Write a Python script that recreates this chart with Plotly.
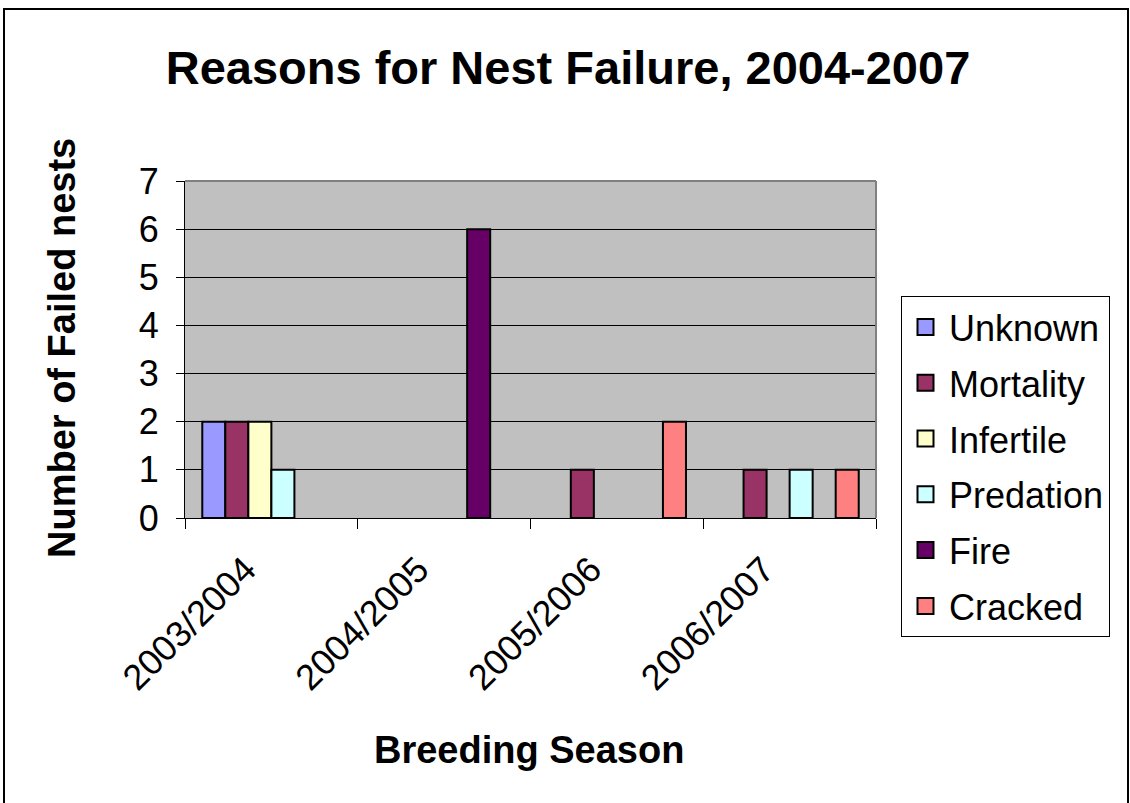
import plotly.graph_objects as go

# Breeding seasons (x categories)
seasons = ["2003/2004", "2004/2005", "2005/2006", "2006/2007"]

# Number of failed nests per reason and season
unknown = [2, 0, 0, 0]
mortality = [2, 0, 1, 1]
infertile = [2, 0, 0, 0]
predation = [1, 0, 0, 1]
fire = [0, 6, 0, 0]
cracked = [0, 0, 2, 1]

reasons = ["Unknown", "Mortality", "Infertile", "Predation", "Fire", "Cracked"]
values = [unknown, mortality, infertile, predation, fire, cracked]
colors = ["#9999FF", "#993366", "#FFFFCC", "#CCFFFF", "#660066", "#FF8080"]

FONT = "Liberation Sans, Arial, sans-serif"

fig = go.Figure()
for i, (name, vals, col) in enumerate(zip(reasons, values, colors)):
    # empty categories get no outline so nothing is drawn along the baseline
    widths = [2 if v else 0 for v in vals]
    fig.add_trace(go.Bar(
        x=seasons, y=vals, name=name,
        marker=dict(color=col, line=dict(color="black", width=widths)),
        showlegend=False,
    ))
    # legend entry with a larger square swatch
    fig.add_trace(go.Scatter(
        x=[None], y=[None], mode="markers", name=name,
        marker=dict(symbol="square", size=16, color=col,
                    line=dict(color="black", width=2)),
        legendgroup=f"g{i}",
    ))

W, H = 1130, 803
L, R, T, B = 185, 254, 181, 285
pw, ph = W - L - R, H - T - B

def px(x):
    return (x - L) / pw

def py(y):
    return (H - B - y) / ph

fig.update_layout(
    width=W, height=H,
    margin=dict(l=L, r=R, t=T, b=B, autoexpand=False),
    paper_bgcolor="white",
    plot_bgcolor="#C0C0C0",
    font=dict(family=FONT, color="black", size=36),
    barmode="group",
    bargap=0.2,
    bargroupgap=0,
    title=dict(
        text="<b>Reasons for Nest Failure, 2004-2007</b>",
        font=dict(size=47, family=FONT, color="black"),
        x=568 / W, xanchor="center",
        y=1 - 68 / H, yanchor="middle",
    ),
    legend=dict(
        x=px(901), xanchor="left",
        y=py(296), yanchor="top",
        bordercolor="black", borderwidth=1,
        bgcolor="white",
        font=dict(size=36, family=FONT, color="black"),
        traceorder="grouped",
        tracegroupgap=6,
        itemsizing="trace",
        itemwidth=37,
        maxheight=500,
    ),
    showlegend=True,
)

fig.update_xaxes(
    type="category",
    showline=True, linecolor="black", linewidth=1,
    ticks="outside", tickson="boundaries", ticklen=10,
    tickcolor="black", tickwidth=1,
    tickangle=-45,
    ticklabelstandoff=15,
    ticklabelshift=-26,
    tickfont=dict(size=36, family=FONT, color="black"),
    showgrid=False,
    automargin=False,
)
fig.update_yaxes(
    range=[0, 7], dtick=1,
    showline=True, linecolor="black", linewidth=1,
    ticks="outside", ticklen=8, tickcolor="black", tickwidth=1,
    ticklabelstandoff=10,
    tickfont=dict(size=36, family=FONT, color="black"),
    showgrid=True, gridcolor="black", gridwidth=1,
    zeroline=False,
    automargin=False,
)

# axis titles
fig.add_annotation(
    text="<b>Breeding Season</b>", xref="paper", yref="paper",
    x=px(529), y=py(750), xanchor="center", yanchor="middle",
    showarrow=False, font=dict(size=38, family=FONT, color="black"),
)
fig.add_annotation(
    text="<b>Number of Failed nests</b>", xref="paper", yref="paper",
    x=px(62), y=py(348), xanchor="center", yanchor="middle",
    textangle=-90,
    showarrow=False, font=dict(size=38, family=FONT, color="black"),
)

# plot-area frame (top and right edges) and outer chart border
fig.add_shape(type="line", xref="paper", yref="paper",
              x0=0, x1=1, y0=1, y1=1, line=dict(color="#808080", width=2))
fig.add_shape(type="line", xref="paper", yref="paper",
              x0=1, x1=1, y0=0, y1=1, line=dict(color="#808080", width=2))
fig.add_shape(type="rect", xref="paper", yref="paper",
              x0=px(4), x1=px(1128), y0=py(9), y1=py(830),
              line=dict(color="black", width=2), layer="below")

fig.write_html("out.html")
